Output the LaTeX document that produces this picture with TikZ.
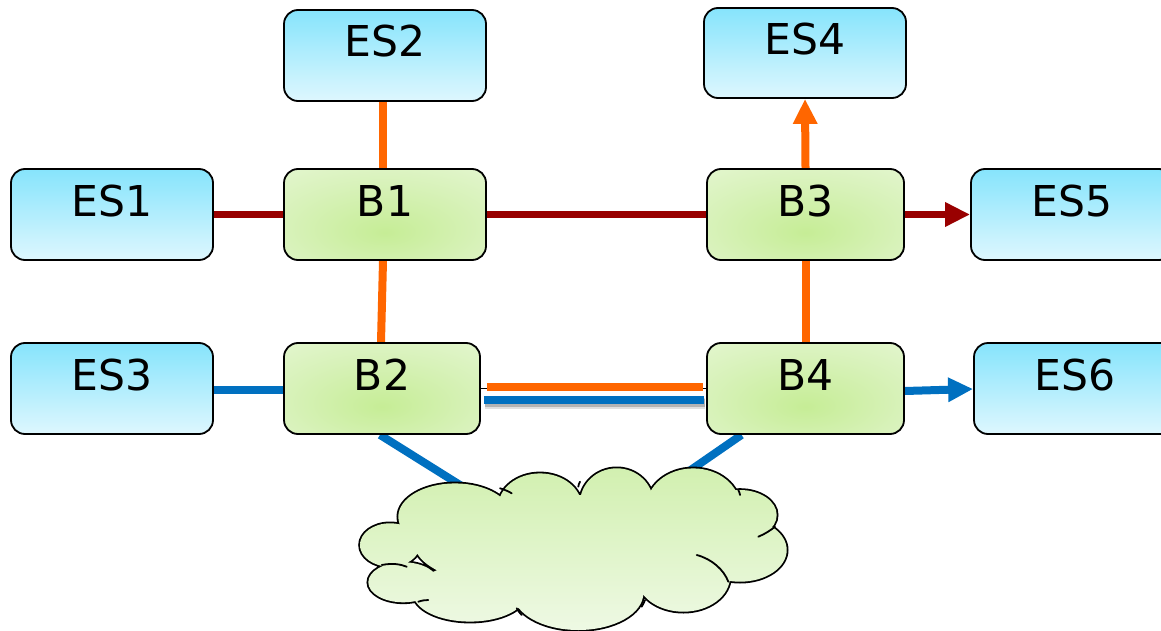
\documentclass[tikz,border=0pt]{standalone}
\usepackage{fontspec}
\setmainfont{DejaVu Sans}
\usetikzlibrary{arrows.meta,backgrounds}
\definecolor{esTop}{RGB}{134,228,252}
\definecolor{esBot}{RGB}{222,247,254}
\definecolor{brIn}{RGB}{198,237,150}
\definecolor{brMid}{RGB}{216,242,186}
\definecolor{brOut}{RGB}{230,247,212}
\definecolor{brCorner}{RGB}{238,250,228}
\definecolor{cloudTop}{RGB}{210,240,176}
\definecolor{cloudBot}{RGB}{238,249,228}
\definecolor{linkRed}{RGB}{153,0,0}
\definecolor{linkOrange}{RGB}{255,102,0}
\definecolor{linkBlue}{RGB}{0,112,192}
\pgfdeclareradialshading{bridgeshade}{\pgfpoint{0bp}{-10bp}}{%
  color(0bp)=(brIn); color(25bp)=(brMid); color(45bp)=(brOut);
  color(60bp)=(brCorner); color(100bp)=(brCorner)}
\tikzset{
  box/.style={draw=black, line width=1.8pt, rounded corners=14pt,
    minimum height=91pt, inner sep=0pt, text height=31pt, text depth=28pt,
    font=\fontsize{42.5}{50}\selectfont},
  station/.style={box, minimum width=202pt, top color=esTop, bottom color=esBot},
  bridge/.style={box, shading=bridgeshade},
  redlink/.style={line width=7.5pt, draw=linkRed},
  orangelink/.style={line width=8pt, draw=linkOrange},
  bluelink/.style={line width=8pt, draw=linkBlue},
  tip/.style={-{Triangle[length=25pt,width=23pt]}},
  tail/.style={line width=1.8pt, line cap=round},
}
\begin{document}
\begin{tikzpicture}[x=1pt,y=1pt]
\useasboundingbox (0,0) rectangle (1161,-631);
\clip (0,0) rectangle (1161,-631);

% end stations
\node[station] (ES2) at (385,-55.5) {ES2};
\node[station, minimum height=90pt] (ES4) at (805,-53) {ES4};
\node[station] (ES1) at (112,-214.5) {ES1};
\node[station] (ES5) at (1072,-214.5) {ES5};
\node[station] (ES3) at (112,-388.5) {ES3};
\node[station] (ES6) at (1075,-388.5) {ES6};

% bridges
\node[bridge, minimum width=202pt] (B1) at (385,-214.5) {B1};
\node[bridge, minimum width=197pt] (B3) at (805.5,-214.5) {B3};
\node[bridge, minimum width=196pt] (B2) at (382,-388.5) {B2};
\node[bridge, minimum width=197pt] (B4) at (805.5,-388.5) {B4};

% attachment points on the cloud
\coordinate (netL) at (468,-490);
\coordinate (netR) at (682,-476);

% cloud: union of overlapping lobes, outlined then filled
\def\cloudlobes{
  (390,-545) ellipse [x radius=30, y radius=21.7]
  (403.3,-582.3) ellipse [x radius=35, y radius=20]
  (470,-593.3) ellipse [x radius=56.7, y radius=28.3]
  (578.3,-593.3) ellipse [x radius=65, y radius=36.7]
  (683.3,-576.7) ellipse [x radius=46.7, y radius=35]
  (740,-550) ellipse [x radius=46.7, y radius=31.7]
  (740,-515) ellipse [x radius=36.7, y radius=25]
  (693.3,-506.7) ellipse [x radius=46.7, y radius=38.3]
  (616.7,-503.3) ellipse [x radius=36.7, y radius=35]
  (540,-506.7) ellipse [x radius=41.7, y radius=33.3]
  (455,-516.7) ellipse [x radius=56.7, y radius=33.3]
  (575,-545) ellipse [x radius=160, y radius=50]
}
\draw[line width=3.6pt] \cloudlobes;
\shade[top color=cloudTop, bottom color=cloudBot] \cloudlobes;
% inner curls of the cloud
\draw[tail] (381.7,-565) .. controls (392,-563) and (400,-564) .. (406.7,-566.7);
\draw[tail] (418.3,-601.7) .. controls (422,-600.5) and (425,-600) .. (428.3,-600);
\draw[tail] (521.7,-615) .. controls (519,-612) and (517.5,-610) .. (516.7,-608.3);
\draw[tail] (641.7,-606.7) .. controls (643,-604) and (644.5,-602) .. (645,-600);
\draw[tail] (696.7,-555) .. controls (712,-559) and (724,-570) .. (728.3,-581.7);
\draw[tail] (758.3,-536.7) .. controls (765,-534) and (771,-530) .. (775,-526.7);
\draw[tail] (580,-481.7) .. controls (579,-483.5) and (578.5,-485) .. (578.3,-486.7);
\draw[tail] (500,-488.3) .. controls (504,-489.5) and (508,-491) .. (511.7,-493.3);
\draw[tail] (738.3,-490) .. controls (739.2,-491.5) and (739.8,-493.5) .. (740,-495);

\begin{scope}[on background layer]
  % red path
  \draw[redlink] (ES1.east) -- (B1.west);
  \draw[redlink] (B1.east) -- (B3.west);
  \draw[redlink, tip] (B3.east) -- (ES5.west);
  % orange path
  \draw[orangelink] ([xshift=-2pt]ES2.south) -- ([xshift=-2pt]B1.north);
  \draw[orangelink] ([xshift=-2pt]B1.south) -- ([xshift=-1pt]B2.north);
  \draw[orangelink, tip] (B3.north) -- (ES4.south);
  \draw[orangelink] (B4.north) -- (B3.south);
  % parallel B2--B4 trunk
  \draw[line width=1pt] (B2.east) -- (B4.west);
  \draw[orangelink] ([xshift=6pt,yshift=1.5pt]B2.east) -- ([xshift=-3pt,yshift=1.5pt]B4.west);
  \draw[line width=11pt, draw=black, opacity=0.12] ([xshift=4pt,yshift=-15pt]B2.east) -- ([xshift=-1pt,yshift=-15pt]B4.west);
  \draw[line width=8pt, draw=black, opacity=0.2] ([xshift=4pt,yshift=-14pt]B2.east) -- ([xshift=-1pt,yshift=-14pt]B4.west);
  \draw[bluelink] ([xshift=3pt,yshift=-11.5pt]B2.east) -- ([xshift=-2pt,yshift=-11.5pt]B4.west);
  % blue path
  \draw[bluelink] ([yshift=-1.5pt]ES3.east) -- ([yshift=-1.5pt]B2.west);
  \draw[bluelink, tip] ([yshift=-2.5pt]B4.east) -- ([yshift=-0.5pt]ES6.west);
  \draw[bluelink] ([xshift=-2pt]B2.south) -- (netL);
  \draw[bluelink] ([xshift=-64pt]B4.south) -- (netR);
\end{scope}
\end{tikzpicture}
\end{document}
